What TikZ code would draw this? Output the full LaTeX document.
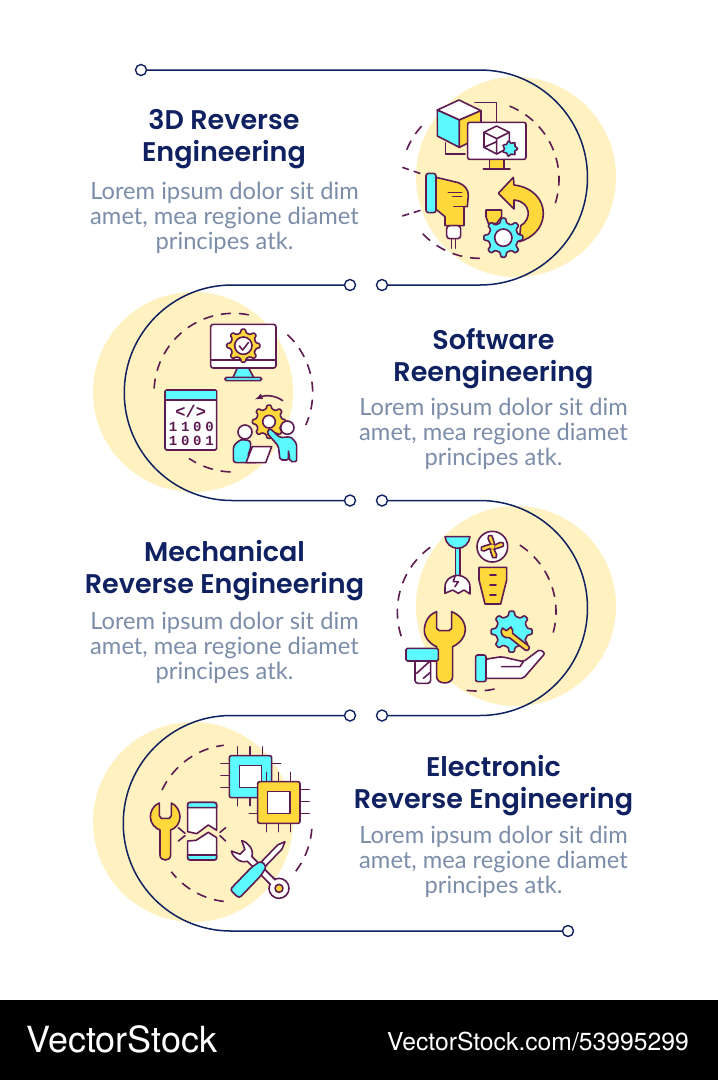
\documentclass[tikz,border=0pt]{standalone}
\usepackage{fontspec}
\setmainfont{Lato}
\newfontfamily\ttlfont{Poppins SemiBold}
\newfontfamily\cdfont{Liberation Mono}
\newfontfamily\logofont{TeX Gyre Heros}
\definecolor{pale}{HTML}{FFF2C0}
\definecolor{navy}{HTML}{0F2160}
\definecolor{greyb}{HTML}{7C8DA9}
\definecolor{ip}{HTML}{5E1B52}
\definecolor{iy}{HTML}{FFD83B}
\definecolor{ic}{HTML}{5CFAFF}
\tikzset{
 dot/.style={circle,draw=navy,fill=white,line width=1.4pt,minimum size=11pt,inner sep=0pt},
 conn/.style={draw=navy,line width=1.5pt},
 disc/.style={fill=pale},
 ol/.style={draw=ip,line width=1.6pt,line join=round,line cap=round},
 dsh/.style={draw=ip,line width=1.6pt,dash pattern=on 10pt off 8pt},
 ttl/.style={align=center,text=navy,font=\ttlfont\fontsize{27}{32}\selectfont,inner sep=0pt},
 bdy/.style={align=center,text=greyb,font=\fontsize{23.7}{25}\selectfont,inner sep=0pt},
 dig/.style={text=ip,font=\cdfont\bfseries\fontsize{14}{14}\selectfont,inner sep=0pt},
 logo/.style={text=white,inner sep=0pt,anchor=west},
 zoomA/.style={shift={(390,60)},scale=1/3},
 zoomB/.style={shift={(90,280)},scale=1/3},
 zoomC/.style={shift={(390,500)},scale=1/3},
 zoomD/.style={shift={(90,715)},scale=1/3},
}
\newcommand{\gearic}[6]{%
 \begin{scope}[shift={(#1,#2)}]
 \draw[ol,fill=#6,rounded corners=1pt] ({(1-.28)*360/#5}:#4) \foreach \k in {1,...,#5} { -- ({(\k-.28)*360/#5}:#4) -- ({(\k-.15)*360/#5}:#3) -- ({(\k+.15)*360/#5}:#3) -- ({(\k+.28)*360/#5}:#4) } -- cycle;
 \end{scope}}
\newcommand{\darc}[5]{\draw[dsh] ([shift={(#1,#2)}]#4:#3) arc[start angle=#4,end angle=#5,radius=#3];}
\begin{document}
\begin{tikzpicture}[x=1pt,y=1pt,yscale=-1]
\useasboundingbox (0,0) rectangle (718,1080);
\fill[white] (0,0) rectangle (718,1080);
\fill[black] (0,1000) rectangle (718,1080);
% discs
\fill[disc] (516,177) circle (100);
\fill[disc] (193,392) circle (100);
\fill[disc] (516,606) circle (100);
\fill[disc] (193,822) circle (100);
% dots
\node[dot] (p1) at (141,70) {};
\node[dot] (p2) at (382,285) {};
\node[dot] (p3) at (350,285) {};
\node[dot] (p4) at (350,500.5) {};
\node[dot] (p5) at (382,500.5) {};
\node[dot] (p6) at (382,715.5) {};
\node[dot] (p7) at (350,715.5) {};
\node[dot] (p8) at (568,931) {};
% connectors
\draw[conn] (p1) -- (480,70) arc[start angle=-90,end angle=90,radius=107.5] -- (p2);
\draw[conn] (p3) -- (232,285) arc[start angle=270,end angle=90,radius=107.75] -- (p4);
\draw[conn] (p5) -- (480,500.5) arc[start angle=-90,end angle=90,radius=107.5] -- (p6);
\draw[conn] (p7) -- (231,715.5) arc[start angle=270,end angle=90,radius=107.75] -- (p8);
% texts
\node[ttl] (t1) at (224,139.5) {3D Reverse\\Engineering};
\node[bdy] (b1) at (224.5,218) {Lorem ipsum dolor sit dim\\amet, mea regione diamet\\principes atk.};
\node[ttl] (t2) at (493.5,358.5) {Software\\Reengineering};
\node[bdy] (b2) at (493.5,434) {Lorem ipsum dolor sit dim\\amet, mea regione diamet\\principes atk.};
\node[ttl] (t3) at (224.5,570.5) {Mechanical\\Reverse Engineering};
\node[bdy] (b3) at (224.5,648) {Lorem ipsum dolor sit dim\\amet, mea regione diamet\\principes atk.};
\node[ttl] (t4) at (493.5,785.5) {Electronic\\Reverse Engineering};
\node[bdy] (b4) at (493.5,862) {Lorem ipsum dolor sit dim\\amet, mea regione diamet\\principes atk.};
% logo
\node[logo,font=\logofont\fontsize{36}{36}\selectfont] (l1) at (26,1039) {VectorStock};
\node[logo,font=\logofont\fontsize{24.7}{24.7}\selectfont] (l2) at (387,1042) {VectorStock.com/53995299};
% ---------- icon 1
\begin{scope}[zoomA]
\darc{270}{358}{237}{292}{380}
\darc{270}{358}{237}{90}{141}
\darc{270}{358}{237}{202}{226}
\draw[dsh,dash pattern=on 7pt off 5pt] (37,322) -- (95,342);
\draw[dsh,dash pattern=on 7pt off 5pt] (37,468) -- (95,450);
\draw[ol] (255,128) -- (320,128) -- (320,187);
\draw[ol] (167,248) -- (167,282) -- (225,282);
\draw[ol,fill=white] (142,150) -- (207,120) -- (273,152) -- (208,180) -- cycle;
\draw[ol,fill=ic] (142,150) -- (208,180) -- (208,262) -- (142,228) -- cycle;
\draw[ol,fill=iy] (208,180) -- (273,152) -- (273,230) -- (208,262) -- cycle;
\draw[ol,fill=iy] (298,298) rectangle (342,327);
\draw[ol] (280,327) -- (360,327);
\draw[ol,fill=white,rounded corners=2pt] (233,187) rectangle (408,298);
\draw[ol] (282,217) -- (320,198) -- (358,217) -- (358,262) -- (320,282) -- (282,262) -- cycle;
\draw[ol] (282,217) -- (320,236) -- (358,217) (320,236) -- (320,282) (282,262) -- (320,245);
\gearic{360}{266}{23}{17}{7}{ic}
\draw[ol,fill=iy] (138,352) -- (205,368) .. controls (225,375) and (235,390) .. (235,405) -- (232,440) -- (222,440) -- (222,497) -- (165,497) -- (165,470) -- (138,448) -- cycle;
\draw[ol] (175,398) -- (215,398) (188,410) -- (215,410) (192,440) -- (232,440);
\draw[ol,fill=white,rounded corners=3pt] (170,497) -- (170,536) -- (212,536) -- (212,497) -- cycle;
\draw[ol] (185,538) -- (185,565) (197,538) -- (197,565);
\draw[ol,fill=ic,rounded corners=2.5pt] (108,340) rectangle (138,458);
\draw[ol,fill=iy] (325,400) -- (370,352) -- (372,375) .. controls (430,382) and (460,420) .. (460,460) .. controls (460,505) and (425,535) .. (388,545) -- (392,497) .. controls (425,480) and (425,425) .. (372,420) -- (372,447) -- cycle;
\draw[ol,fill=iy] (288,450) -- (335,450) -- (335,470) -- (320,490) -- (295,490) -- (288,470) -- cycle;
\gearic{340}{533}{59}{45}{8}{ic}
\draw[ol,fill=white] (340,533) circle (26);
\end{scope}
% ---------- icon 2
\begin{scope}[zoomB]
\darc{430}{338}{238}{183}{282}
\darc{430}{338}{238}{313}{384}
\darc{430}{338}{238}{92}{124}
\draw[ol,fill=ic] (442,264) -- (428,294) -- (492,294) -- (476,264) -- cycle;
\draw[ol,fill=ic,rounded corners=1.5pt] (405,292) rectangle (515,302);
\draw[ol,fill=white,rounded corners=2.5pt] (362,133) rectangle (558,264);
\draw[ol] (362,240) -- (558,240);
\gearic{460}{197}{50}{39}{8}{iy}
\draw[ol,fill=white] (460,197) circle (26);
\draw[ol] (448,198) -- (458,210) -- (475,188);
\draw[ol,fill=white,rounded corners=1.5pt] (225,330) rectangle (380,510);
\draw[ol,fill=ic] (226,331) rectangle (379,360);
\node[dig,font=\cdfont\bfseries\fontsize{17}{17}\selectfont] (c0) at (302,393) {</>};
\node[dig] (c1) at (304,441) {1\kern3.7pt 1\kern3.7pt 0\kern3.7pt 0};
\node[dig] (c2) at (304,484) {1\kern3.7pt 0\kern3.7pt 0\kern3.7pt 1};
\draw[ol,-latex] (578,362) .. controls (555,345) and (525,345) .. (495,358);
\gearic{537}{425}{50}{39}{8}{iy}
\draw[ol,fill=white] (537,425) circle (19);
\draw[ol,fill=white] (592,443) circle (20);
\draw[ol,fill=white] (465,456) circle (21);
\draw[ol,fill=ic,rounded corners=3pt] (430,548) -- (430,497) -- (452,478) -- (482,482) -- (482,505) -- (472,530) -- (505,530) -- (505,548) -- cycle;
\draw[ol,fill=white] (487,500) -- (545,500) -- (527,548) -- (468,548) -- cycle;
\draw[ol,fill=ic,rounded corners=2pt] (530,458) -- (540,445) -- (570,473) -- (602,470) -- (620,490) -- (620,545) -- (600,545) -- (595,510) -- (595,540) -- (570,540) -- (565,498) -- cycle;
\end{scope}
% ---------- icon 3
\begin{scope}[zoomC]
\darc{260}{335}{238}{303}{380}
\darc{260}{335}{238}{77}{100}
\darc{260}{335}{238}{162}{236}
\draw[ol,fill=ic] (196,143) rectangle (210,228);
\draw[ol,fill=ic] (165,110) -- (240,110) .. controls (238,130) and (222,145) .. (203,145) .. controls (184,145) and (167,130) .. (165,110) -- cycle;
\draw[ol,fill=white] (165,280) -- (165,262) .. controls (165,240) and (180,228) .. (203,226) .. controls (225,228) and (240,240) .. (240,262) -- (240,282) -- (222,270) -- (205,280) -- (188,270) -- cycle;
\draw[ol] (195,228) -- (190,245) -- (205,245) -- (195,260);
\draw[ol,fill=white] (307,140) circle (46);
\foreach \a in {0,90,180,270} \draw[ol,fill=iy,rotate around={\a:(307,140)}] (301,142) .. controls (306,125) and (288,120) .. (296,107) .. controls (303,103) and (310,108) .. (309,116) .. controls (308,124) and (318,130) .. (313,142) -- cycle;
\fill[iy] (307,140) circle (7);
\draw[ol,fill=iy] (267,202) -- (350,202) -- (350,240) -- (332,312) -- (285,312) -- (267,240) -- cycle;
\draw[ol] (300,225) -- (318,225) (300,255) -- (318,255) (300,285) -- (318,285);
\draw[ol,fill=white,rounded corners=3pt] (75,480) -- (75,550) -- (122,550) -- (122,480) -- cycle;
\draw[ol] (80,520) -- (118,485) (100,535) -- (120,518);
\draw[ol,fill=iy] (140,335) .. controls (110,345) and (103,375) .. (103,392) .. controls (103,415) and (125,435) .. (140,440) -- (140,530) .. controls (140,555) and (188,555) .. (188,530) -- (188,440) .. controls (210,430) and (226,410) .. (226,390) .. controls (226,365) and (210,345) .. (185,335) -- (185,385) -- (177,392) -- (148,392) -- (140,385) -- cycle;
\draw[ol,fill=ic,rounded corners=1.5pt] (48,445) rectangle (145,483);
\gearic{365}{395}{62}{48}{8}{ic}
\begin{scope}[shift={(352,398)},rotate=38]
\draw[ol,fill=iy] (14,-8) -- (74,-8) .. controls (84,-8) and (84,8) .. (74,8) -- (14,8) .. controls (2,22) and (-18,18) .. (-20,-2) -- (-6,-3) -- (-2,-20) .. controls (6,-18) and (12,-14) .. (14,-8) -- cycle;
\end{scope}
\draw[ol,fill=white,rounded corners=2pt] (285,478) -- (335,470) -- (400,485) -- (450,448) -- (465,460) -- (400,535) -- (285,535) -- cycle;
\draw[ol] (335,500) -- (390,500) -- (400,485);
\draw[ol,fill=ic,rounded corners=2pt] (257,465) rectangle (288,545);
\end{scope}
% ---------- icon 4
\begin{scope}[zoomD]
\darc{430}{325}{236}{205}{263}
\darc{430}{325}{236}{4}{39}
\darc{430}{325}{236}{97}{142}
\draw[ol] (443,95) -- (443,122) (480,95) -- (480,122) (517,95) -- (517,122);
\draw[ol] (393,146) -- (418,146) (393,182) -- (418,182) (393,218) -- (418,218);
\draw[ol] (443,248) -- (443,272) (480,248) -- (480,272) (545,146) -- (572,146);
\draw[ol,fill=ic,rounded corners=2pt] (418,122) rectangle (545,248);
\draw[ol,fill=white] (448,152) rectangle (515,218);
\draw[ol] (530,172) -- (530,200) (565,172) -- (565,200) (602,172) -- (602,200);
\draw[ol] (630,224) -- (658,224) (630,260) -- (658,260) (630,296) -- (658,296);
\draw[ol] (530,325) -- (530,350) (565,325) -- (565,350) (602,325) -- (602,350) (478,296) -- (503,296);
\draw[ol,fill=iy,rounded corners=2pt] (503,200) rectangle (630,325);
\draw[ol,fill=white] (533,230) rectangle (600,295);
\draw[ol,fill=iy] (208,264) .. controls (190,270) and (181,290) .. (181,305) .. controls (181,325) and (195,340) .. (210,345) -- (210,420) .. controls (210,440) and (242,440) .. (242,420) -- (242,345) .. controls (258,340) and (270,325) .. (270,305) .. controls (270,290) and (260,270) .. (244,264) -- (244,302) -- (238,310) -- (214,310) -- (208,302) -- cycle;
% phone
\draw[ol,fill=white] (293,350) -- (293,270) .. controls (293,264) and (296,262) .. (302,262) -- (371,262) .. controls (377,262) and (380,264) .. (380,270) -- (380,346) -- (355,330) -- (320,356) -- cycle;
\draw[ol,fill=ic] (293,278) -- (293,270) .. controls (293,264) and (296,262) .. (302,262) -- (371,262) .. controls (377,262) and (380,264) .. (380,270) -- (380,278) -- cycle;
\draw[ol,fill=white] (293,378) -- (293,427) .. controls (293,433) and (296,435) .. (302,435) -- (371,435) .. controls (377,435) and (380,433) .. (380,427) -- (380,368) -- (355,352) -- (318,376) -- cycle;
\draw[ol,fill=ic] (293,420) -- (293,427) .. controls (293,433) and (296,435) .. (302,435) -- (371,435) .. controls (377,435) and (380,433) .. (380,427) -- (380,420) -- cycle;
\draw[ol] (265,338) -- (285,355) (265,378) -- (285,362) (390,352) -- (407,338) (390,362) -- (407,378);
% wrench
\begin{scope}[shift={(567,520)},rotate=225]
\draw[ol,fill=white] (125,-10) .. controls (135,-30) and (165,-32) .. (180,-22) -- (155,-10) -- (155,10) -- (180,22) .. controls (165,32) and (135,30) .. (125,10) -- (20,10) -- (20,-10) -- cycle;
\draw[ol,fill=white] (0,0) circle (30);
\fill[white] (15,-9) rectangle (40,9);
\draw[ol] (26,-10) -- (40,-10) (26,10) -- (40,10);
\draw[ol,fill=iy] (0,0) circle (12);
\end{scope}
\begin{scope}[shift={(585,380)},rotate=134]
\draw[ol,fill=white] (0,0) -- (22,-9) -- (105,-9) -- (105,9) -- (22,9) -- cycle;
\draw[ol,fill=ic,rounded corners=3pt] (92,-12) -- (125,-19) -- (218,-19) -- (218,19) -- (125,19) -- (92,12) -- cycle;
\end{scope}
\end{scope}
\end{tikzpicture}
\end{document}
